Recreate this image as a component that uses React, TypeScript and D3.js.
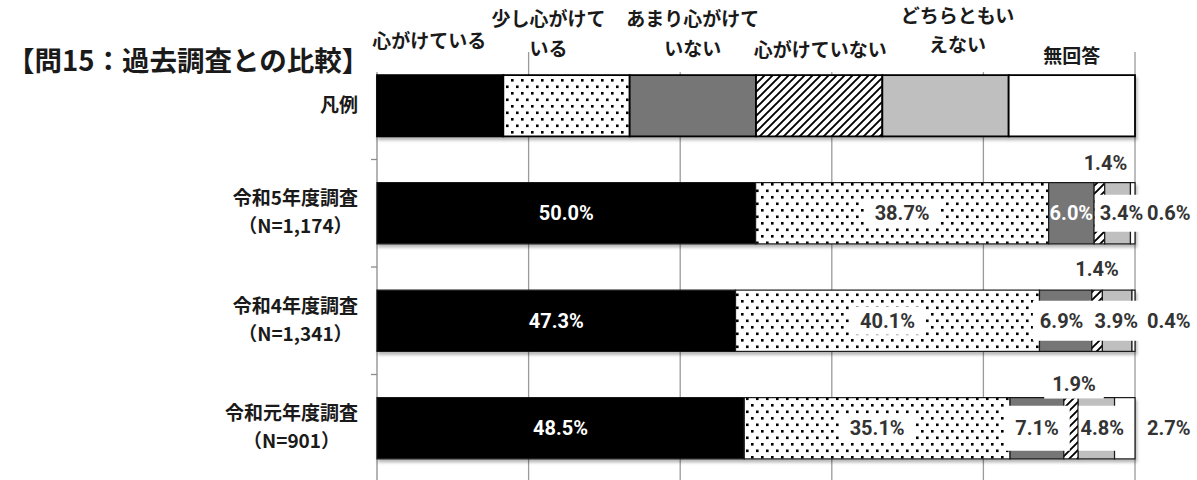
import React, { useEffect, useRef } from 'react';
import * as d3 from 'd3';

const W = 1197;
const H = 480;

const titleText = '【問15：過去調査との比較】';
const legendRowLabel = '凡例';
const seriesKeys = ['s0', 's1', 's2', 's3', 's4', 's5'];
const seriesNames = [
  ['心がけている'],
  ['少し心がけて', 'いる'],
  ['あまり心がけて', 'いない'],
  ['心がけていない'],
  ['どちらともい', 'えない'],
  ['無回答'],
];
const rowNames = [
  ['令和5年度調査', '（N=1,174）'],
  ['令和4年度調査', '（N=1,341）'],
  ['令和元年度調査', '（N=901）'],
];
const legendShares = [1, 1, 1, 1, 1, 1];
const r5Values = [50.0, 38.7, 6.0, 1.4, 3.4, 0.6];
const r4Values = [47.3, 40.1, 6.9, 1.4, 3.9, 0.4];
const r1Values = [48.5, 35.1, 7.1, 1.9, 4.8, 2.7];
const xTicks = [0, 0.2, 0.4, 0.6, 0.8, 1.0];

// styling / placement (kept separate from data)
const fills = ['#000000', 'url(#dots)', '#767676', 'url(#hatch)', '#bfbfbf', '#ffffff'];
const legendLabelDx = [-11, -18, 0, 1, 12, 0];
const legendLabelDy = [[-27], [-49, -19], [-49, -19], [-18], [-52, -23], [-12]];
const legendLabelBox = [true, false, true, true, true, true];

type LP = { m: string; dx?: number; dy?: number; h?: number; px?: number; c?: string };
const labelPlacement: LP[][] = [
  [
    { m: 'in', c: '#ffffff' },
    { m: 'box', h: 28, px: 10 },
    { m: 'in', c: '#ffffff' },
    { m: 'above', dx: 6, dy: -20, h: 24, px: 6 },
    { m: 'box', dx: 4, h: 37, px: 5 },
    { m: 'right' },
  ],
  [
    { m: 'in', c: '#ffffff' },
    { m: 'box', h: 28, px: 10 },
    { m: 'box', dx: -4, h: 40, px: 7 },
    { m: 'above', dx: 0, dy: -21, h: 24, px: 6 },
    { m: 'box', dx: -1, h: 40, px: 5 },
    { m: 'right' },
  ],
  [
    { m: 'in', c: '#ffffff' },
    { m: 'box', h: 28, px: 10 },
    { m: 'box', dx: 0, h: 45, px: 11 },
    { m: 'above', dx: 3, dy: -14, h: 30, px: 8 },
    { m: 'box', dx: 6, h: 45, px: 2 },
    { m: 'right' },
  ],
];

const FONT = "'Noto Sans CJK JP', 'Noto Sans', sans-serif";
const NUMFONT = "Roboto, 'Noto Sans', sans-serif";

export default function App() {
  const ref = useRef<SVGSVGElement>(null);

  useEffect(() => {
    const svg = d3.select(ref.current);
    svg.selectAll('*').remove();

    const defs = svg.append('defs');
    const dots = defs
      .append('pattern')
      .attr('id', 'dots')
      .attr('patternUnits', 'userSpaceOnUse')
      .attr('width', 10)
      .attr('height', 13);
    dots.append('rect').attr('width', 10).attr('height', 13).attr('fill', '#fff');
    dots.append('rect').attr('x', 1).attr('y', 1).attr('width', 2.6).attr('height', 2.6).attr('fill', '#000');
    dots.append('rect').attr('x', 6).attr('y', 7.5).attr('width', 2.6).attr('height', 2.6).attr('fill', '#000');

    const hatch = defs
      .append('pattern')
      .attr('id', 'hatch')
      .attr('patternUnits', 'userSpaceOnUse')
      .attr('width', 8)
      .attr('height', 8);
    hatch.append('rect').attr('width', 8).attr('height', 8).attr('fill', '#fff');
    hatch
      .append('path')
      .attr('d', 'M-1,9 L9,-1 M-2,2 L2,-2 M6,10 L10,6')
      .attr('stroke', '#000')
      .attr('stroke-width', 1.9);

    const filt = defs
      .append('filter')
      .attr('id', 'sh')
      .attr('x', '-5%')
      .attr('y', '-30%')
      .attr('width', '110%')
      .attr('height', '170%');
    filt
      .append('feDropShadow')
      .attr('dx', 1.5)
      .attr('dy', 3)
      .attr('stdDeviation', 1.8)
      .attr('flood-color', '#000')
      .attr('flood-opacity', 0.28);

    svg.append('rect').attr('width', W).attr('height', H).attr('fill', '#fff');

    const cats = ['legend', 'r5', 'r4', 'r1'];
    const valueRows = [legendShares, r5Values, r4Values, r1Values];
    const table = cats.map((c, i) => {
      const o: any = { cat: c };
      seriesKeys.forEach((k, j) => (o[k] = valueRows[i][j]));
      return o;
    });
    const stacked = d3.stack<any>().keys(seriesKeys).offset(d3.stackOffsetExpand)(table);

    const x = d3.scaleLinear().domain([0, 1]).range([377, 1135]);
    const y = d3.scaleBand<string>().domain(cats).range([52, 482]).paddingInner(0.43).paddingOuter(0.215);
    const step = y.step();
    const bw = y.bandwidth();

    // title
    svg
      .append('text')
      .attr('x', 7)
      .attr('y', 71)
      .attr('font-family', FONT)
      .attr('font-weight', 700)
      .attr('font-size', 27.5)
      .attr('fill', '#1a1a1a')
      .text(titleText);

    // gridlines
    const g0 = svg.append('g');
    xTicks.slice(1).forEach((t) => {
      g0.append('line')
        .attr('x1', x(t))
        .attr('x2', x(t))
        .attr('y1', 52)
        .attr('y2', 482)
        .attr('stroke', '#9a9a9a')
        .attr('stroke-width', 1.3);
    });
    // axis
    g0.append('line')
      .attr('x1', x(0))
      .attr('x2', x(0))
      .attr('y1', 52)
      .attr('y2', 482)
      .attr('stroke', '#8c8c8c')
      .attr('stroke-width', 1.3);
    const bounds = cats.map((c) => (y(c) as number) - (step - bw) / 2).concat([482]);
    bounds.forEach((b) => {
      g0.append('line')
        .attr('x1', x(0) - 6)
        .attr('x2', x(0))
        .attr('y1', b)
        .attr('y2', b)
        .attr('stroke', '#8c8c8c')
        .attr('stroke-width', 1.3);
    });

    // bars
    cats.forEach((c, i) => {
      const g = svg.append('g').attr('filter', 'url(#sh)');
      stacked.forEach((s, j) => {
        const d = s[i];
        g.append('rect')
          .attr('x', x(d[0]))
          .attr('y', y(c) as number)
          .attr('width', x(d[1]) - x(d[0]))
          .attr('height', bw)
          .attr('fill', fills[j])
          .attr('stroke', i === 0 ? '#000' : '#1a1a1a')
          .attr('stroke-width', i === 0 ? 1.8 : 1.2);
      });
    });

    // category labels
    const catG = svg.append('g').attr('font-family', FONT).attr('font-weight', 700).attr('fill', '#1a1a1a');
    const labelRight = 358;
    catG.append('text')
      .attr('x', labelRight)
      .attr('y', (y('legend') as number) + bw / 2 + 6)
      .attr('text-anchor', 'end')
      .attr('font-size', 19)
      .text(legendRowLabel);
    rowNames.forEach((nm, i) => {
      const cy = (y(cats[i + 1]) as number) + bw / 2;
      const t1 = catG
        .append('text')
        .attr('x', labelRight)
        .attr('y', cy - 8)
        .attr('text-anchor', 'end')
        .attr('font-size', 19)
        .text(nm[0]);
      const w1 = (t1.node() as SVGTextElement).getComputedTextLength();
      catG.append('text')
        .attr('x', labelRight - w1 / 2)
        .attr('y', cy + 20)
        .attr('text-anchor', 'middle')
        .attr('font-size', 19)
        .text(nm[1]);
    });

    // legend series labels above legend bar
    const legTop = y('legend') as number;
    const legG = svg.append('g');
    seriesNames.forEach((lines, j) => {
      const d = stacked[j][0];
      const cx = (x(d[0]) + x(d[1])) / 2 + legendLabelDx[j];
      const grp = legG.append('g');
      const box = grp.append('rect').attr('fill', '#fff');
      let maxW = 0;
      lines.forEach((ln, k) => {
        const t = grp
          .append('text')
          .attr('x', cx)
          .attr('y', legTop + legendLabelDy[j][k])
          .attr('text-anchor', 'middle')
          .attr('font-family', FONT)
          .attr('font-weight', 700)
          .attr('font-size', 19)
          .attr('fill', '#1a1a1a')
          .text(ln);
        maxW = Math.max(maxW, (t.node() as SVGTextElement).getComputedTextLength());
      });
      if (legendLabelBox[j]) {
        const top = legTop + legendLabelDy[j][0] - 19;
        box
          .attr('x', cx - maxW / 2 - 3)
          .attr('y', top)
          .attr('width', maxW + 6)
          .attr('height', legTop - 3 - top);
        grp.raise();
      } else box.remove();
    });

    // data labels
    const fmt = d3.format('.1f');
    const dataValues = [r5Values, r4Values, r1Values];
    const lblG = svg.append('g').attr('font-family', NUMFONT).attr('font-weight', 700).attr('font-size', 20);
    dataValues.forEach((vals, i) => {
      const c = cats[i + 1];
      const top = y(c) as number;
      const cy = top + bw / 2;
      vals.forEach((v, j) => {
        const d = stacked[j][i + 1];
        const p = labelPlacement[i][j];
        const txt = fmt(v) + '%';
        let lx = (x(d[0]) + x(d[1])) / 2 + (p.dx || 0);
        let ly = cy;
        let anchor = 'middle';
        if (p.m === 'above') ly = top + (p.dy || 0);
        if (p.m === 'right') {
          lx = x(1) + 12;
          anchor = 'start';
        }
        const grp = lblG.append('g');
        const box = grp.append('rect').attr('fill', '#fff');
        const t = grp
          .append('text')
          .attr('x', lx)
          .attr('y', ly)
          .attr('dy', '0.36em')
          .attr('text-anchor', anchor)
          .attr('fill', p.c || '#333333')
          .text(txt);
        if (p.m === 'box' || p.m === 'above') {
          const w = (t.node() as SVGTextElement).getComputedTextLength();
          const px = p.px || 6;
          const h = p.h || 28;
          box
            .attr('x', lx - w / 2 - px)
            .attr('y', ly - h / 2)
            .attr('width', w + 2 * px)
            .attr('height', h);
        } else box.remove();
      });
    });
  }, []);

  return (
    <svg
      ref={ref}
      width={W}
      height={H}
      style={{ position: 'absolute', left: 0, top: 0, background: '#fff' }}
    />
  );
}
